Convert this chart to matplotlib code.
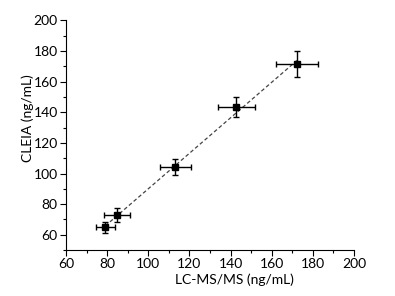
import matplotlib
matplotlib.use("Agg")
import matplotlib.pyplot as plt
import numpy as np
from matplotlib.ticker import MultipleLocator

lcms = [79.1, 84.8, 113.1, 142.8, 172.3]
cleia = [64.8, 72.8, 104.3, 143.5, 171.5]
lcms_err = [4.6, 6.2, 7.6, 9.1, 10.4]
cleia_err = [3.3, 4.6, 5.4, 6.3, 8.7]

plt.rcParams['font.family'] = ['Lato', 'DejaVu Sans']
fig = plt.figure(figsize=(3.95, 2.96), dpi=100)
ax = fig.add_axes([0.167, 0.155, 0.729, 0.776])

x = np.array(lcms); y = np.array(cleia)
k, b = np.polyfit(x, y, 1)
xs = np.array([x.min(), x.max()])
ax.plot(xs, k * xs + b, ls=(0, (3, 2)), color='#444444', lw=0.9, zorder=1)
ax.errorbar(lcms, cleia, xerr=lcms_err, yerr=cleia_err, fmt='s', color='black',
            ms=4.2, elinewidth=1.0, capsize=2, capthick=1.0, zorder=2)

ax.set_xlim(60, 200)
ax.set_ylim(50, 200)
ax.xaxis.set_major_locator(MultipleLocator(20))
ax.xaxis.set_minor_locator(MultipleLocator(10))
ax.yaxis.set_major_locator(MultipleLocator(20))
ax.yaxis.set_minor_locator(MultipleLocator(10))
ax.set_yticks([60, 80, 100, 120, 140, 160, 180, 200])
for s in ['top', 'right']:
    ax.spines[s].set_visible(False)
ax.tick_params(which='major', direction='out', length=4, width=0.8, labelsize=10, pad=2)
ax.tick_params(which='minor', direction='out', length=2, width=0.8)
ax.set_xlabel('LC-MS/MS (ng/mL)', fontsize=10, labelpad=3)
ax.set_ylabel('CLEIA (ng/mL)', fontsize=10)
ax.yaxis.set_label_coords(-0.112, 0.574)
ax.xaxis.set_label_coords(0.585, -0.1)
fig.savefig('out.png', dpi=100)
